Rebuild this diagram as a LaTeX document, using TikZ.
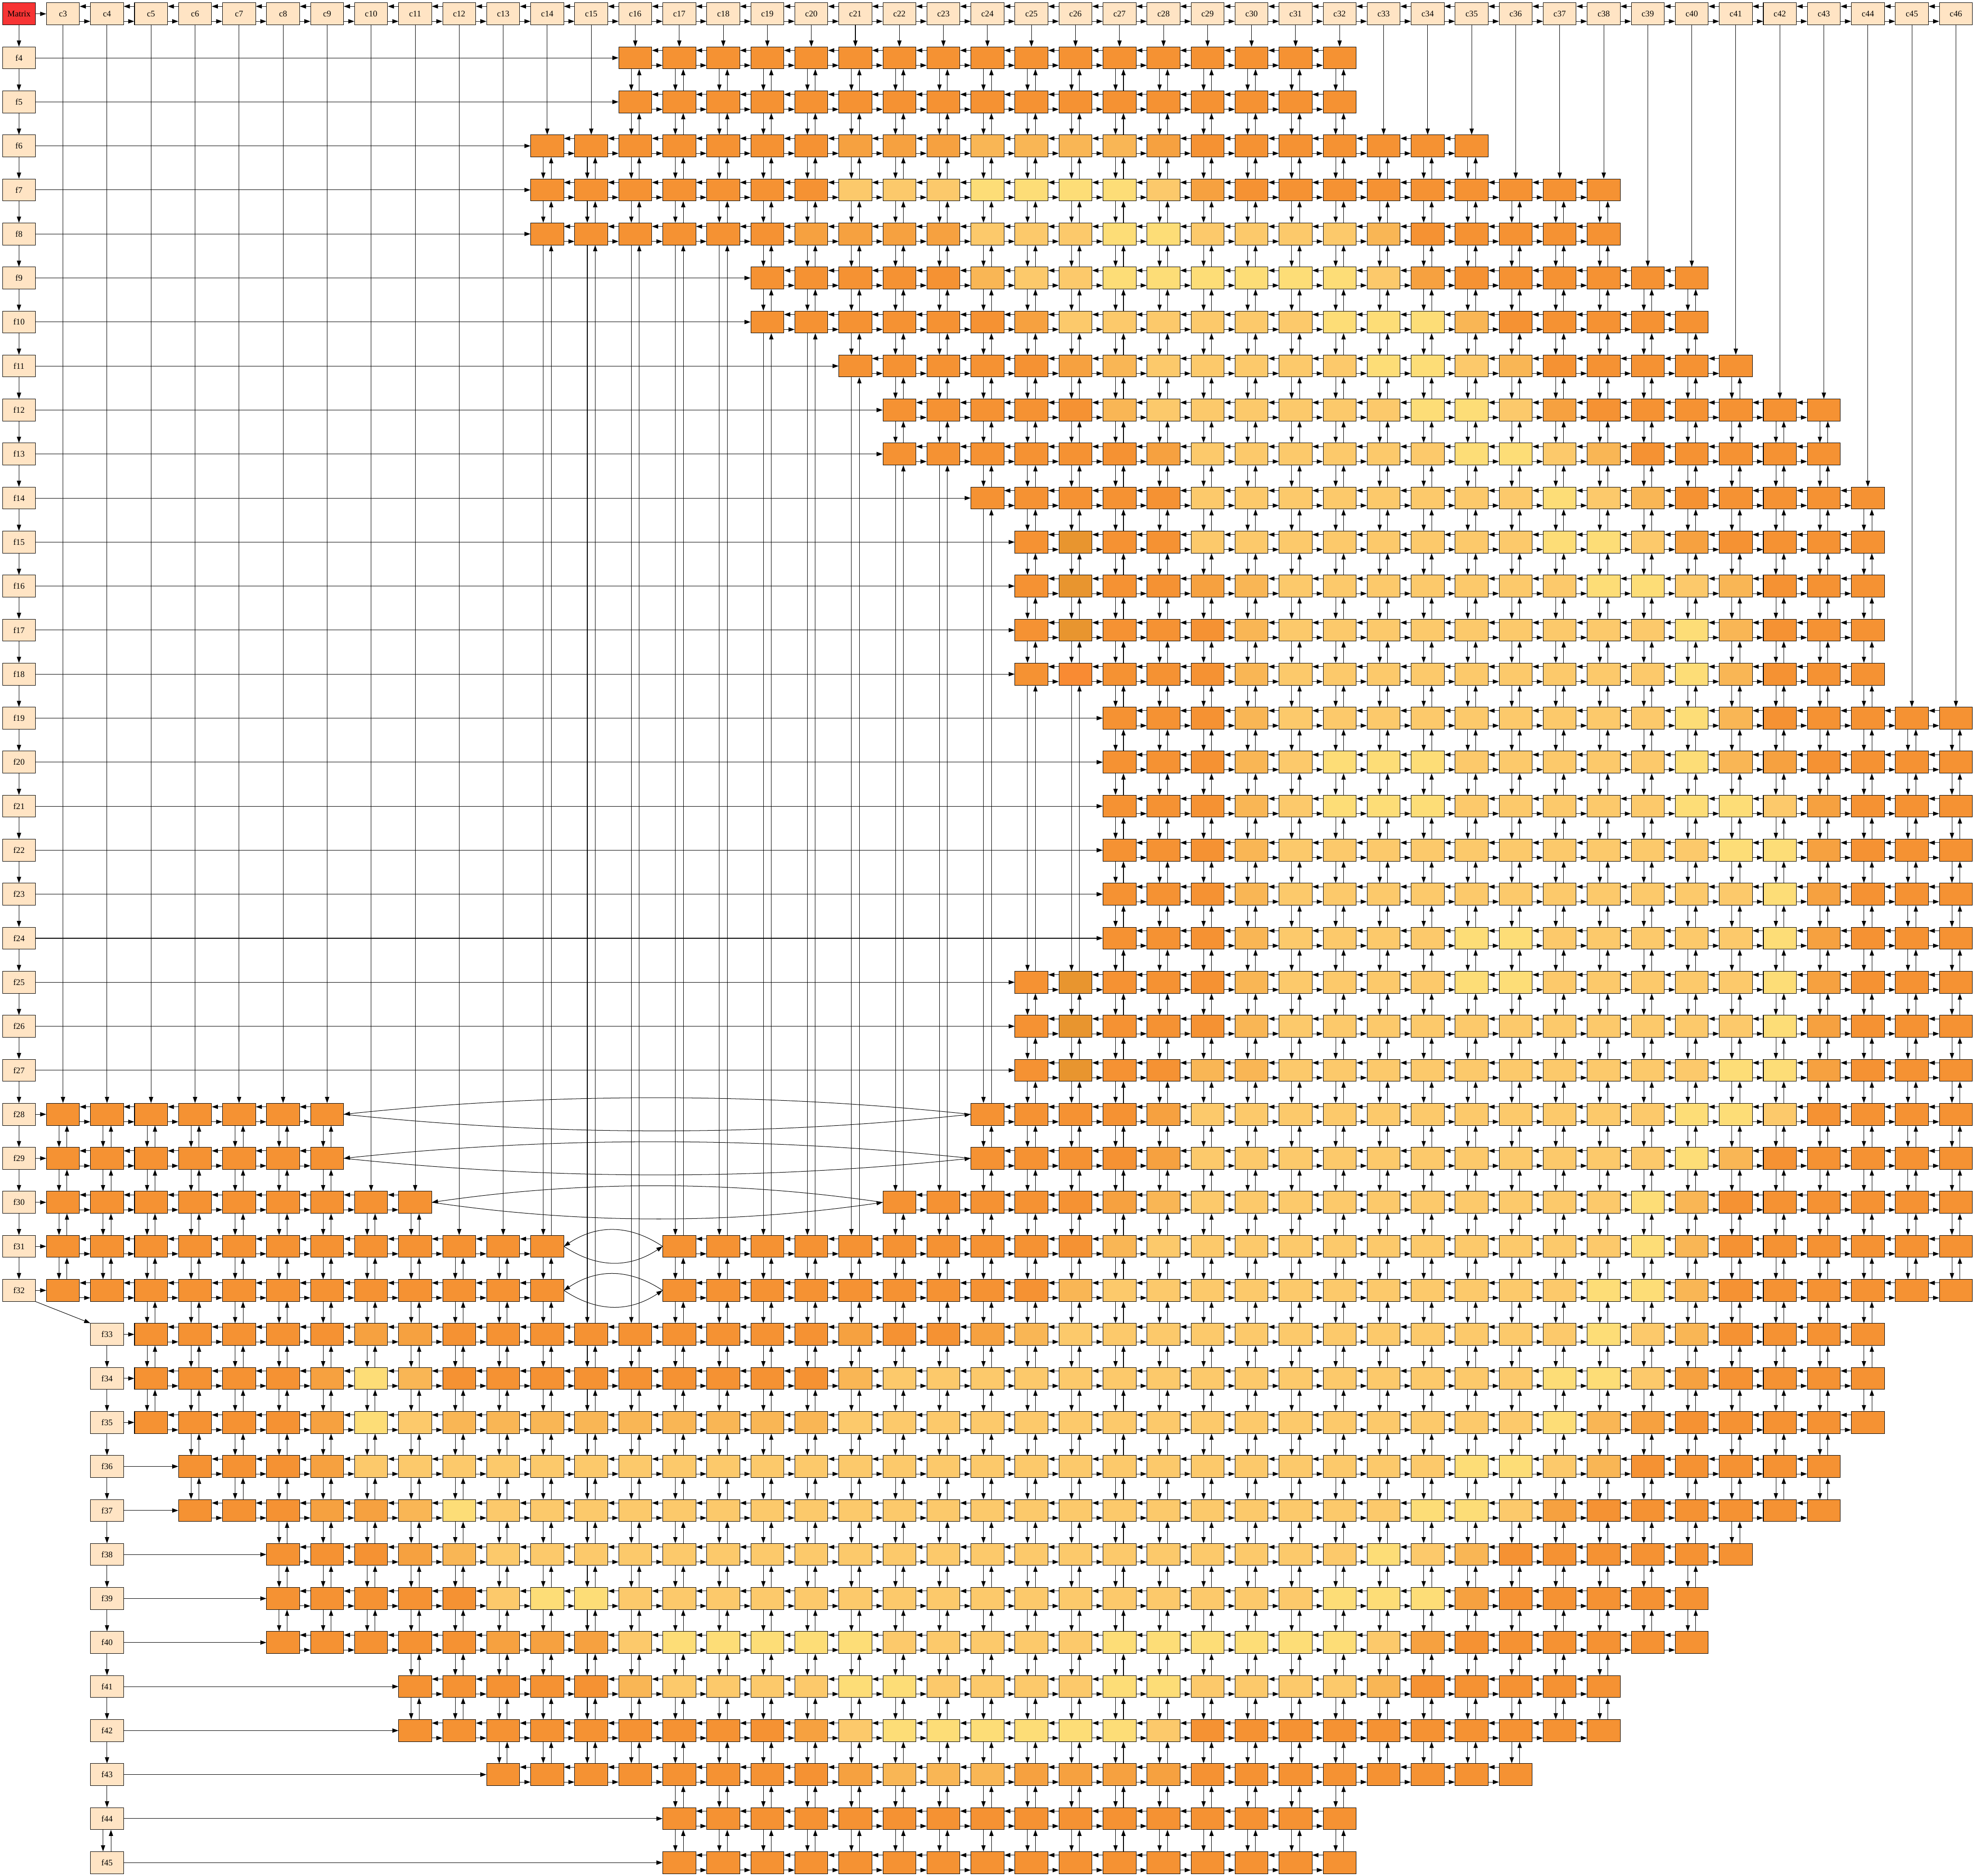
\documentclass[tikz,border=0pt]{standalone}
\usepackage{fontspec}
\setmainfont{Liberation Serif}
\usetikzlibrary{arrows.meta}

\definecolor{bisque}{HTML}{FFE4C4}
\definecolor{matred}{HTML}{F73434}
\definecolor{cellD}{HTML}{F59233}
\definecolor{cellB}{HTML}{E8952F}
\definecolor{cellR}{HTML}{F98B33}
\definecolor{cellM}{HTML}{F6A140}
\definecolor{cellL}{HTML}{F9B655}
\definecolor{cellP}{HTML}{FCC96B}
\definecolor{cellY}{HTML}{FDDD77}

% one row of cells: read one colour letter per column, '-' = no cell
\newcount\cellcol
\def\parsecells#1{\ifx#1\relax\else\placecell{#1}\expandafter\parsecells\fi}
\def\placecell#1{%
  \if#1-\else
    \edef\colk{\the\cellcol}%
    \node[cell,fill=cell#1] (n-\fr-\colk) at (\colk-2,3-\fr) {};
    \ifx\prevk\relax
      \draw[link] (f\fr) -- (n-\fr-\colk);
    \else
      \pgfmathtruncatemacro\gap{\colk-\prevk}%
      \ifnum\gap=1
        \draw[link] ([yshift=-0.17in]n-\fr-\prevk.east) -- ([yshift=-0.17in]n-\fr-\colk.west);
        \draw[link] ([yshift=0.17in]n-\fr-\colk.west) -- ([yshift=0.17in]n-\fr-\prevk.east);
      \else
        \pgfmathsetmacro\cdx{(\gap-0.75)/3}%
        \draw[link] (n-\fr-\prevk.east) .. controls +(\cdx,-0.5) and +(-\cdx,-0.5) .. (n-\fr-\colk.west);
        \draw[link] (n-\fr-\colk.west) .. controls +(-\cdx,0.5) and +(\cdx,0.5) .. (n-\fr-\prevk.east);
      \fi
    \fi
    \xdef\prevk{\colk}%
    \ifcsname toprow\colk\endcsname
      \edef\prow{\csname toprow\colk\endcsname}%
      \draw[link] ([xshift=-0.09in]n-\prow-\colk.south) -- ([xshift=-0.09in]n-\fr-\colk.north);
      \draw[link] ([xshift=0.09in]n-\fr-\colk.north) -- ([xshift=0.09in]n-\prow-\colk.south);
    \else
      \draw[link] (c\colk) -- (n-\fr-\colk);
    \fi
    \expandafter\xdef\csname toprow\colk\endcsname{\fr}%
  \fi
  \global\advance\cellcol by 1\relax}

\begin{document}
\begin{tikzpicture}[x=1in,y=1in,
  hdr/.style={draw,line width=0.8pt,fill=bisque,minimum width=0.75in,minimum height=0.5in,
    inner sep=0pt,font=\fontsize{14}{16}\selectfont},
  cell/.style={draw,line width=0.8pt,minimum width=0.75in,minimum height=0.5in,inner sep=0pt},
  link/.style={-{Triangle[length=10pt,width=7pt]},line width=0.8pt}
]
  \useasboundingbox (-0.431,0.315) rectangle (44.434,-42.30);

  \node[hdr,fill=matred] (Matrix) at (0,0) {Matrix};
  \foreach \k in {3,...,46} \node[hdr] (c\k) at (\k-2,0) {c\k};
  \foreach \r in {4,...,32} \node[hdr] (f\r) at (0,3-\r) {f\r};
  \foreach \r in {33,...,45} \node[hdr] (f\r) at (2,3-\r) {f\r};

  \draw[link] (Matrix) -- (c3);
  \foreach \k [evaluate=\k as \kn using int(\k+1)] in {3,...,45} {
    \draw[link] ([yshift=-0.17in]c\k.east) -- ([yshift=-0.17in]c\kn.west);
    \draw[link] ([yshift=0.17in]c\kn.west) -- ([yshift=0.17in]c\k.east);
  }
  \draw[link] (Matrix) -- (f4);
  \foreach \r [evaluate=\r as \rn using int(\r+1)] in {4,...,31} \draw[link] (f\r) -- (f\rn);
  \foreach \r [evaluate=\r as \rn using int(\r+1)] in {33,...,43} \draw[link] (f\r) -- (f\rn);
  \draw[link] (f32.south east) -- (f33.north west);
  \draw[link] ([xshift=-0.09in]f44.south) -- ([xshift=-0.09in]f45.north);
  \draw[link] ([xshift=0.09in]f45.north) -- ([xshift=0.09in]f44.south);

  % row / first column / colours
  \foreach \fr/\first/\cells in {
    4/16/DDDDD DDDDD DDDDD DD,
    5/16/DDDDD DDDDD DDDDD DD,
    6/14/DDDDD DDMMM LLLLM DDDDD DD,
    7/14/DDDDD DDPPP YYYYP MDDDD DDDDD,
    8/14/DDDDD DMMMM PPPYY PPPPL DDDDD,
    9/19/DDDDD LPPYY YYYYP MDDDD DD,
    10/19/DDDDD DMPPP PPPYY YLDDD DD,
    11/21/DDDDD MLPPP PPYYP LDDDD D,
    12/22/DDDDD LPPPP PPYYP MDDDD DD,
    13/22/DDDDD DMPPP PPPYY PLDDD DD,
    14/24/DDDDD PPPPP PPPYP LDDDD D,
    15/25/DBDDP PPPPP PPYYP MDDDD,
    16/25/DBDDM LPPPP PPPYY PLDDD,
    17/25/DBDDD LPPPP PPPPP YLDDD,
    18/25/DRDDD LPPPP PPPPP YLDDD,
    19/27/DDDLP PPPPP PPPYL DDDDD,
    20/27/DDDLP YYYPP PPPYL MDDDD,
    21/27/DDDLP YYYPP PPPYY PMDDD,
    22/27/DDDLP PPPPP PPPPY YMDDD,
    23/27/DDDLP PPPPP PPPPP YMDDD,
    24/27/DDDLP PPPYY PPPPP YMDDD,
    25/25/DBDDD LPPPP YYPPP PPYMD DD,
    26/25/DBDDD LPPPP PPPPP PPYMD DD,
    27/25/DBDDL LPPPP PPPPP PYYMD DD,
    28/3/DDDDD DD--- ----- ----- -DDDD MPPPP PPPPP PPYYP DDDD,
    29/3/DDDDD DD--- ----- ----- -DDDD MPPPP PPPPP PPYLD DDDD,
    30/3/DDDDD DDDD- ----- ----D DDDDM LPPPP PPPPP PYLDD DDDD,
    31/3/DDDDD DDDDD DD--D DDDDD DDDDL PPPPP PPPPP PYLDD DDDD,
    32/3/DDDDD DDDDD DD--D DDDDD DDDLP PPPPP PPPPP YYLDD DDDD,
    33/5/DDDDD MMDDD DDDDD DMDDM LPPPP PPPPP PPPYP LDDDD,
    34/5/DDDDM YLDDD DDDDD DLPPP PPPPP PPPPP PPYYP MDDDD,
    35/5/DDDDM YPLLL LLLLL LPPPP PPPPP PPPPP PPYLM DDDDD,
    36/6/DDDMP PPPPP PPPPP PPPPP PPPPP PPPPY YPLDD DDD,
    37/6/DDDMM LYPPP PPPPP PPPPP PPPPP PPPYY PMDDD DDD,
    38/8/DDDML PPPPP PPPPP PPPPP PPPPP YPLDD DDDD,
    39/8/DDDDD PYYPP PPPPP PPPPP PPPPY YYMDD DDD,
    40/8/DDDDD MMMPY YYYYP PPPPY YYYYY PMDDD DDD,
    41/11/DDDDD LPPPP YYPPP PYYPP PPLDD DDD,
    42/11/DDDDD DDDDM PYYYY YYPDD DDDDD DDD,
    43/13/DDDDD DDDML LLMMM MDDDD DDDD,
    44/17/DDDDD DDDDD DDDDD D,
    45/17/DDDDD DDDDD DDDDD D} {
    \global\cellcol=\first\relax
    \global\let\prevk\relax
    \expandafter\parsecells\cells\relax
  }
\end{tikzpicture}
\end{document}
